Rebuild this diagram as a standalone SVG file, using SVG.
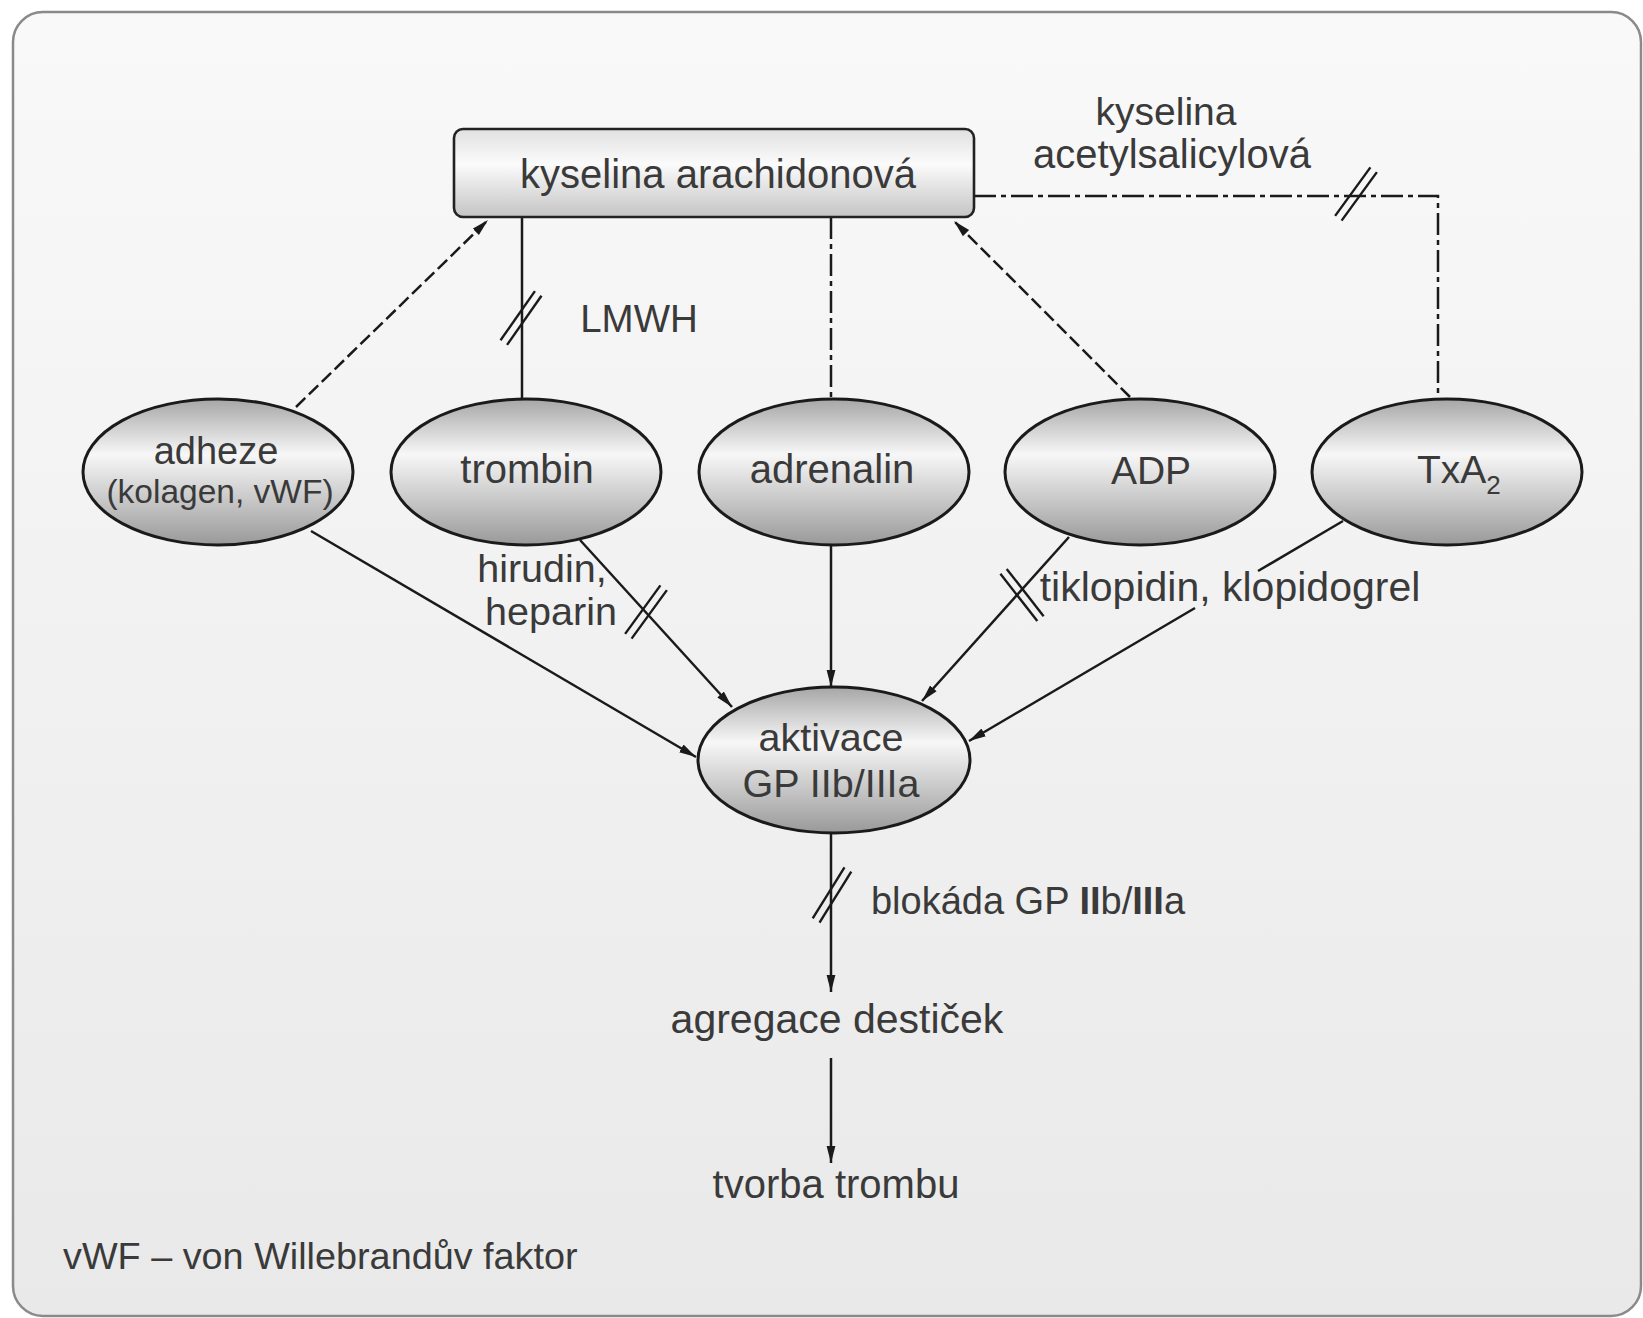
<svg xmlns="http://www.w3.org/2000/svg" xmlns:xlink="http://www.w3.org/1999/xlink" width="1643" height="1318" viewBox="0 0 1643 1318">
<style>
.lbl { font-family: "Liberation Sans", Arial, sans-serif; font-size: 40px; fill: #3a3a3a; text-anchor: middle; }
.ln { stroke: #1a1a1a; stroke-width: 2.5; fill: none; }
.dash { stroke-dasharray: 13 5; }
.dashdot { stroke-dasharray: 22 5 5 5; }
.ell { fill: url(#ellg); stroke: #1a1a1a; stroke-width: 3; }
</style>
<defs>
<linearGradient id="bg" x1="0" y1="0" x2="0" y2="1">
<stop offset="0" stop-color="#f9f9f9"/>
<stop offset="1" stop-color="#e9e9e9"/>
</linearGradient>
<linearGradient id="ellg" x1="0" y1="0" x2="0" y2="1">
<stop offset="0" stop-color="#a6a6a6"/>
<stop offset="0.38" stop-color="#f7f7f7"/>
<stop offset="1" stop-color="#999999"/>
</linearGradient>
<linearGradient id="boxg" x1="0" y1="0" x2="0" y2="1">
<stop offset="0" stop-color="#e0e0e0"/>
<stop offset="0.4" stop-color="#fbfbfb"/>
<stop offset="1" stop-color="#c4c4c4"/>
</linearGradient>
<marker id="arr" markerUnits="userSpaceOnUse" markerWidth="18" markerHeight="10" refX="17" refY="5" orient="auto">
<path d="M0,0.6 L17,5 L0,9.4 z" fill="#1a1a1a"/>
</marker>
<g id="slash" stroke="#1a1a1a" stroke-width="2.4" fill="none">
<line x1="-30" y1="-4" x2="30" y2="-4"/>
<line x1="-30" y1="4" x2="30" y2="4"/>
</g>
</defs>

<rect x="0" y="0" width="1643" height="1318" fill="#ffffff"/>
<rect id="frame" x="13" y="12" width="1628" height="1304" rx="30" fill="url(#bg)" stroke="#8a8a8a" stroke-width="2.5"/>

<g id="connectors">
<!-- adheze -> kyselina arachidonova -->
<line class="ln dash" x1="296" y1="407" x2="488" y2="220" marker-end="url(#arr)"/>
<!-- trombin - kyselina arachidonova (LMWH) -->
<line class="ln" x1="522" y1="217" x2="522" y2="399"/>
<use xlink:href="#slash" href="#slash" transform="translate(521,318) rotate(-55)"/>
<!-- adrenalin - kyselina arachidonova -->
<line class="ln dashdot" x1="831" y1="217" x2="831" y2="399"/>
<!-- ADP -> kyselina arachidonova -->
<line class="ln dash" x1="1130" y1="397" x2="954" y2="221" marker-end="url(#arr)"/>
<!-- kyselina arachidonova - TxA2 -->
<polyline class="ln dashdot" points="974,196 1438,196 1438,399"/>
<use xlink:href="#slash" href="#slash" transform="translate(1356,194) rotate(-54)"/>
<!-- adheze -> aktivace -->
<line class="ln" x1="311" y1="531" x2="696" y2="757" marker-end="url(#arr)"/>
<!-- trombin -> aktivace -->
<line class="ln" x1="580" y1="540" x2="732" y2="707" marker-end="url(#arr)"/>
<use xlink:href="#slash" href="#slash" transform="translate(646,612) rotate(-54)"/>
<!-- adrenalin -> aktivace -->
<line class="ln" x1="831" y1="545" x2="831" y2="687" marker-end="url(#arr)"/>
<!-- ADP -> aktivace -->
<line class="ln" x1="1069" y1="537" x2="922" y2="701" marker-end="url(#arr)"/>
<use xlink:href="#slash" href="#slash" transform="translate(1022,595) rotate(52)"/>
<!-- TxA2 -> aktivace (interrupted by label) -->
<line class="ln" x1="1343" y1="521" x2="1258" y2="571"/>
<line class="ln" x1="1195" y1="608" x2="969" y2="741" marker-end="url(#arr)"/>
<!-- aktivace -> agregace -->
<line class="ln" x1="831" y1="833" x2="831" y2="992" marker-end="url(#arr)"/>
<use xlink:href="#slash" href="#slash" transform="translate(832,895) rotate(-58)"/>
<!-- agregace -> tvorba -->
<line class="ln" x1="831" y1="1058" x2="831" y2="1163" marker-end="url(#arr)"/>
</g>

<g id="node-arachidonova">
<rect x="454" y="129" width="520" height="88" rx="9" fill="url(#boxg)" stroke="#222222" stroke-width="2.6"/>
<text class="lbl" x="718" y="188">kyselina arachidonová</text>
</g>

<g id="node-adheze">
<ellipse class="ell" cx="218" cy="472" rx="135" ry="73"/>
<text class="lbl" x="216" y="464" style="font-size:38px">adheze</text>
<text class="lbl" x="220" y="503" style="font-size:33.5px">(kolagen, vWF)</text>
</g>

<g id="node-trombin">
<ellipse class="ell" cx="526" cy="472" rx="135" ry="73"/>
<text class="lbl" x="527" y="483">trombin</text>
</g>

<g id="node-adrenalin">
<ellipse class="ell" cx="834" cy="472" rx="135" ry="73"/>
<text class="lbl" x="832" y="483">adrenalin</text>
</g>

<g id="node-adp">
<ellipse class="ell" cx="1140" cy="472" rx="135" ry="73"/>
<text class="lbl" x="1151" y="484" style="font-size:39px">ADP</text>
</g>

<g id="node-txa2">
<ellipse class="ell" cx="1447" cy="472" rx="135" ry="73"/>
<text class="lbl" x="1417" y="483" style="text-anchor:start; font-size:39px">TxA<tspan dy="11" style="font-size:26px">2</tspan></text>
</g>

<g id="node-aktivace">
<ellipse class="ell" cx="834" cy="760" rx="136" ry="73"/>
<text class="lbl" x="831" y="751" style="font-size:39.5px">aktivace</text>
<text class="lbl" x="831" y="797" style="font-size:39.5px">GP IIb/IIIa</text>
</g>

<g id="node-agregace">
<text class="lbl" x="837" y="1033" style="font-size:41px">agregace destiček</text>
</g>

<g id="node-tvorba">
<text class="lbl" x="836" y="1198">tvorba trombu</text>
</g>

<g id="labels">
<text class="lbl" x="1166" y="125" style="font-size:39px">kyselina</text>
<text class="lbl" x="1172" y="168">acetylsalicylová</text>
<text class="lbl" x="639" y="332" style="font-size:38.5px">LMWH</text>
<text class="lbl" x="542" y="582" style="font-size:39.5px">hirudin,</text>
<text class="lbl" x="551" y="625" style="font-size:39.5px">heparin</text>
<text class="lbl" x="1230" y="601" style="font-size:41px">tiklopidin, klopidogrel</text>
<text class="lbl" x="1028" y="914" style="font-size:38px">blokáda GP <tspan font-weight="bold">II</tspan>b/<tspan font-weight="bold">III</tspan>a</text>
<text class="lbl" x="63" y="1269" style="text-anchor:start; font-size:37.8px">vWF – von Willebrandův faktor</text>
</g>
</svg>
